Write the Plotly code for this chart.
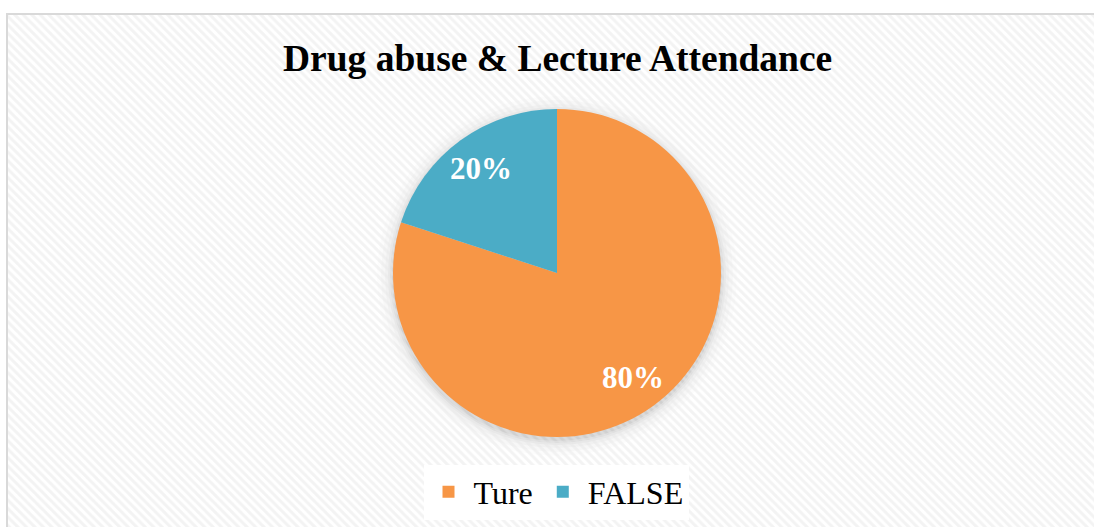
import math
import plotly.graph_objects as go

# ---- data ----
categories = ["Ture", "FALSE"]
values = [80, 20]
colors = ["#F79646", "#4BACC6"]
title_text = "Drug abuse & Lecture Attendance"

W, H = 1094, 527
cx, cy, R = 557, 273, 164

fig = go.Figure()

# hatched chart-area background (decoration, not data)
fig.add_trace(go.Scatter(
    x=[8, W + 5, W + 5, 8, 8], y=[15, 15, H + 5, H + 5, 15],
    mode="lines", line=dict(width=0), fill="toself",
    fillcolor="rgba(0,0,0,0)",
    fillpattern=dict(shape="\\", fgcolor="#e8e8e8", bgcolor="rgba(255,255,255,0)",
                     size=6, solidity=0.5),
    hoverinfo="skip", showlegend=False,
))

fig.add_trace(go.Pie(
    labels=categories, values=values, sort=False, direction="clockwise",
    rotation=0, marker=dict(colors=colors, line=dict(width=0)),
    textinfo="none", hoverinfo="label+percent",
    domain=dict(x=[(cx - R) / W, (cx + R) / W], y=[1 - (cy + R) / H, 1 - (cy - R) / H]),
))

# percentage labels placed from data
total = sum(values)
cum = 0
annotations = []
for v in values:
    theta = 2 * math.pi * (cum + v / 2) / total
    f = 0.79
    ax = cx + R * f * math.sin(theta)
    ay = cy - R * f * math.cos(theta)
    annotations.append(dict(
        x=ax, y=ay, xref="x", yref="y", text=f"{round(100 * v / total)}%",
        showarrow=False, font=dict(family="Liberation Serif", size=31, color="white", weight="bold"),
    ))
    cum += v

annotations.append(dict(
    x=557, y=58, xref="x", yref="y", text=f"<b>{title_text}</b>", showarrow=False,
    font=dict(family="Liberation Serif", size=37.5, color="black"),
))

shapes = []
# soft shadow around pie
for k, a in [(16, 0.012), (12, 0.018), (8, 0.025), (5, 0.035), (3, 0.045), (1, 0.06)]:
    shapes.append(dict(type="circle", xref="x", yref="y",
                       x0=cx - R - k, x1=cx + R + k, y0=cy - R - k + 3, y1=cy + R + k + 3,
                       fillcolor=f"rgba(0,0,0,{a})", line=dict(width=0), layer="below"))
# chart border
shapes.append(dict(type="rect", xref="x", yref="y", x0=7, x1=W + 20, y0=14, y1=H + 20,
                   line=dict(color="#d9d9d9", width=2), fillcolor="rgba(0,0,0,0)", layer="above"))

fig.update_layout(
    width=W, height=H, margin=dict(l=0, r=0, t=0, b=0),
    paper_bgcolor="white", plot_bgcolor="rgba(0,0,0,0)",
    xaxis=dict(range=[0, W], visible=False, fixedrange=True, domain=[0, 1]),
    yaxis=dict(range=[H, 0], visible=False, fixedrange=True, domain=[0, 1]),
    showlegend=True,
    legend=dict(orientation="h", x=556 / W, xanchor="center", y=1 - 492 / H, yanchor="middle",
                bgcolor="white", font=dict(family="Liberation Serif", size=32, color="black"),
                itemsizing="constant", itemwidth=40),
    annotations=annotations, shapes=shapes,
)

fig.write_html("out.html")
